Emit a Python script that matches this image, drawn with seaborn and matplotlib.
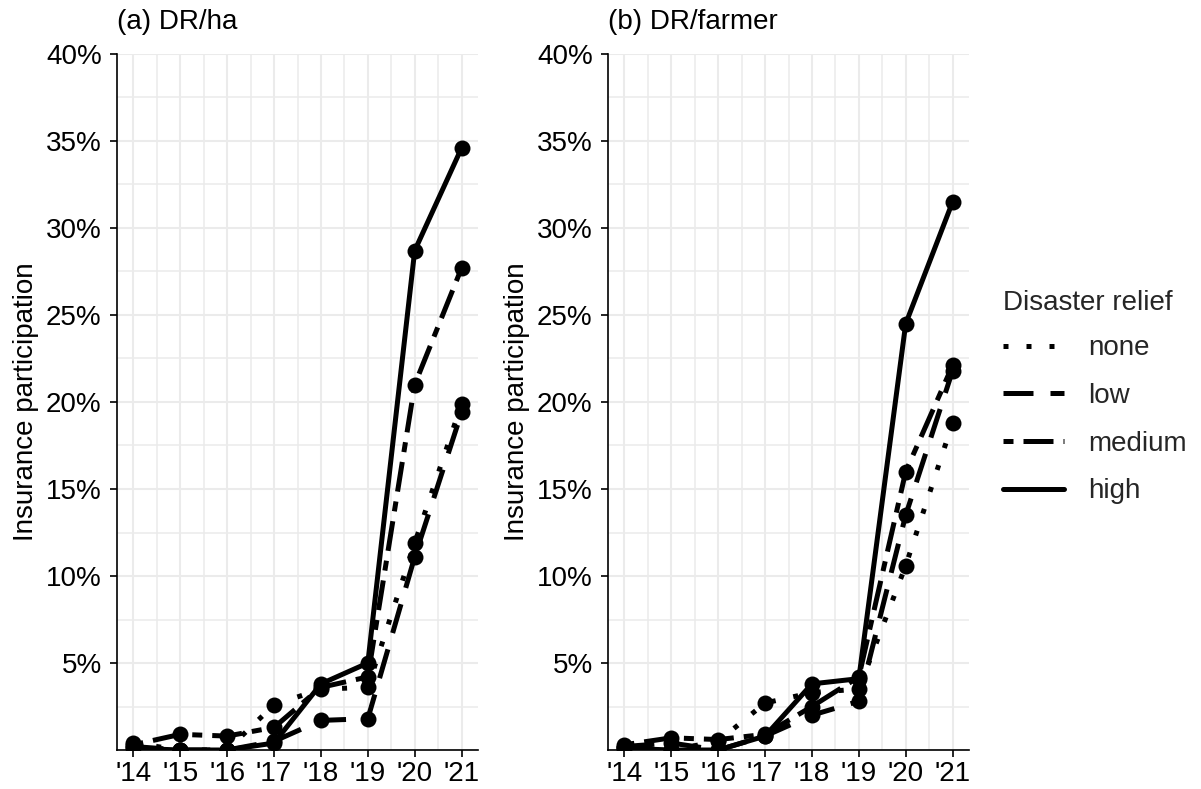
import numpy as np
import pandas as pd
import matplotlib
matplotlib.use("Agg")
import matplotlib.pyplot as plt
from matplotlib.lines import Line2D
from matplotlib.ticker import FixedLocator, MultipleLocator
import seaborn as sns

# ---- data (insurance participation, %) ----
years = [2014, 2015, 2016, 2017, 2018, 2019, 2020, 2021]
year_labels = ["'14", "'15", "'16", "'17", "'18", "'19", "'20", "'21"]
relief_levels = ["none", "low", "medium", "high"]

# (a) disaster relief per hectare
ha_none   = [0.4, 0.0, 0.0, 2.6, 3.5, 3.6, 11.9, 19.9]
ha_low    = [0.2, 0.0, 0.0, 0.5, 1.7, 1.8, 11.1, 19.4]
ha_medium = [0.3, 0.9, 0.8, 1.3, 3.6, 4.2, 21.0, 27.7]
ha_high   = [0.1, 0.0, 0.0, 0.4, 3.8, 5.0, 28.7, 34.6]

# (b) disaster relief per farmer
fa_none   = [0.1, 0.0, 0.5, 2.7, 3.3, 3.5, 10.6, 18.8]
fa_low    = [0.2, 0.4, 0.0, 0.8, 2.0, 2.8, 13.5, 21.8]
fa_medium = [0.3, 0.7, 0.6, 0.9, 2.5, 4.2, 16.0, 22.1]
fa_high   = [0.1, 0.0, 0.0, 0.8, 3.8, 4.1, 24.5, 31.5]

y_ticks = [5, 10, 15, 20, 25, 30, 35, 40]
y_tick_labels = ["5%", "10%", "15%", "20%", "25%", "30%", "35%", "40%"]


def long_df(series):
    rows = []
    for level, vals in zip(relief_levels, series):
        for yr, v in zip(years, vals):
            rows.append({"year": yr, "rate": v, "relief": level})
    return pd.DataFrame(rows)


df_ha = long_df([ha_none, ha_low, ha_medium, ha_high])
df_fa = long_df([fa_none, fa_low, fa_medium, fa_high])

sns.set_theme(style="white")
plt.rcParams["font.family"] = ["Liberation Sans", "DejaVu Sans"]

LW = 3.6
dash_map = {"none": (1, 3.6), "low": (6, 3.4), "medium": (2, 2, 6, 2), "high": ""}
marker_map = {lvl: "o" for lvl in relief_levels}
FS = 20
GRID = "#EBEBEB"

W, H = 1201, 789
fig = plt.figure(figsize=(W / 100, H / 100), dpi=100)
fig.patch.set_facecolor("white")

panels = [
    (117, df_ha, "(a) DR/ha"),
    (608, df_fa, "(b) DR/farmer"),
]
ax_top, ax_bot, ax_w = 54, 750, 361

for left_px, df, title in panels:
    ax = fig.add_axes([left_px / W, (H - ax_bot) / H, ax_w / W, (ax_bot - ax_top) / H])
    sns.lineplot(data=df, x="year", y="rate", style="relief",
                 style_order=relief_levels, dashes=dash_map, markers=marker_map,
                 color="black", linewidth=LW, markersize=11.5, markeredgewidth=0,
                 legend=False, ax=ax, zorder=3)
    for ln in ax.get_lines():
        ln.set_dash_capstyle("butt")

    ax.set_xlim(2013.65, 2021.35)
    ax.set_ylim(0, 40)
    ax.xaxis.set_minor_locator(MultipleLocator(0.5))
    ax.set_xticks(years)
    ax.set_xticklabels(year_labels)
    ax.yaxis.set_minor_locator(MultipleLocator(2.5))
    ax.set_yticks(y_ticks)
    ax.set_yticklabels(y_tick_labels)

    ax.grid(which="major", color=GRID, linewidth=1.5, zorder=0)
    ax.grid(which="minor", color=GRID, linewidth=1.1, zorder=0)
    ax.set_axisbelow(True)

    for side in ["top", "right"]:
        ax.spines[side].set_visible(False)
    for side in ["left", "bottom"]:
        ax.spines[side].set_color("black")
        ax.spines[side].set_linewidth(1.2)

    ax.tick_params(axis="both", which="major", length=5, width=1.2, color="black",
                   labelsize=FS, labelcolor="black", direction="out",
                   left=True, bottom=True)
    ax.tick_params(axis="x", pad=3)
    ax.tick_params(axis="y", pad=6)
    ax.tick_params(which="minor", length=0)

    ax.set_xlabel("")
    ax.set_ylabel("Insurance participation", fontsize=FS, color="black")
    ax.yaxis.set_label_coords(-0.215, 0.5)
    ax.set_title(title, loc="left", fontsize=FS, color="black", pad=18)

# legend without markers
handles = []
for lvl in relief_levels:
    d = dash_map[lvl]
    h = Line2D([0], [0], color="black", linewidth=LW, dash_capstyle="butt")
    if d:
        h.set_dashes(d)
    handles.append(h)

leg = fig.legend(handles, relief_levels, title="Disaster relief",
                 loc="center left", bbox_to_anchor=(1003 / W, 1 - 397 / H),
                 frameon=False, fontsize=FS, title_fontsize=FS,
                 handlelength=2.2, handletextpad=0.85, labelspacing=0.78,
                 borderpad=0, borderaxespad=0, alignment="left")
leg._legend_box.sep = 14

fig.savefig("out.png", dpi=100, facecolor=fig.get_facecolor())
